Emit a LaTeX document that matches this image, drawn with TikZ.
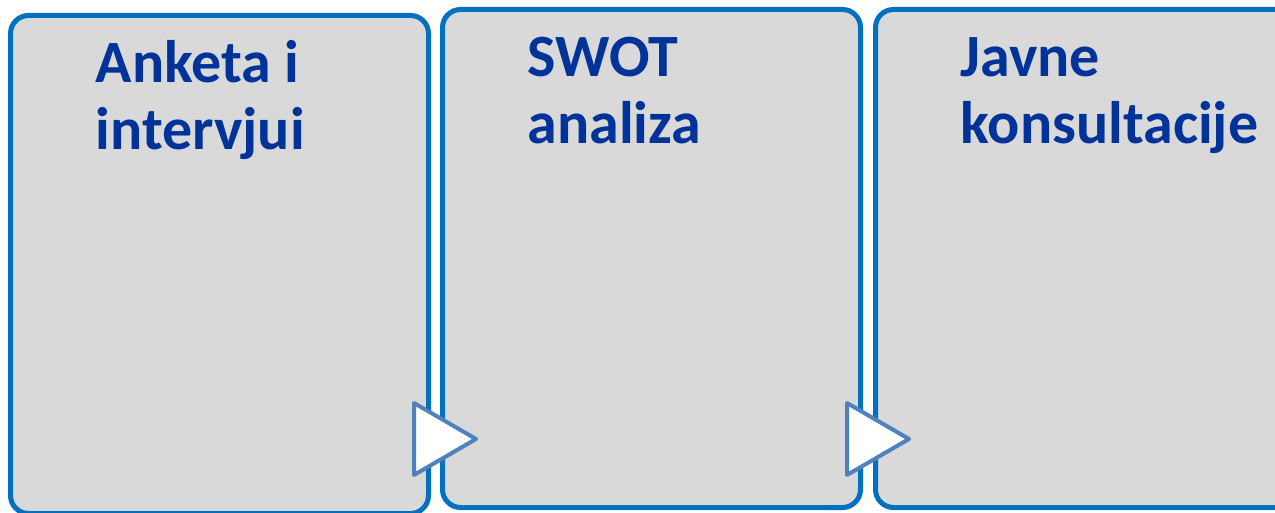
\documentclass[tikz,border=0pt]{standalone}
\usepackage{fontspec}
\setmainfont{Carlito}
\usetikzlibrary{positioning}

\definecolor{stageblue}{HTML}{0070C0}
\definecolor{stagegrey}{HTML}{D9D9D9}
\definecolor{titleblue}{HTML}{003399}
\definecolor{markblue}{HTML}{4F81BD}

\begin{document}
\begin{tikzpicture}[x=1pt, y=1pt,
    stage/.style = {draw=stageblue, fill=stagegrey, line width=5pt,
      rounded corners=18pt, minimum width=418pt, minimum height=498pt,
      inner sep=0pt, outer sep=0pt},
    stagetitle/.style = {anchor=base west, align=left, inner sep=0pt,
      text=titleblue, font=\bfseries\fontsize{60}{67}\selectfont},
    nextmark/.style = {draw=markblue, fill=white, line width=4pt,
      line join=round}]
    \useasboundingbox (0,0) rectangle (1275,512);

    \node[stage] (box1) at (219.5,247.5) {};
    \node[stage, right=14pt of box1, yshift=6pt] (box2) {};
    \node[stage, right=15pt of box2] (box3) {};

    % base anchor sits on the second line
    \node[stagetitle] (title1) at ([xshift=85pt, yshift=-134pt]box1.north west) {Anketa i\\intervjui};
    \node[stagetitle] (title2) at ([xshift=85pt, yshift=-134pt]box2.north west) {SWOT\\analiza};
    \node[stagetitle] (title3) at ([xshift=85pt, yshift=-134pt]box3.north west) {Javne\\konsultacije};

    % markers between the stages
    \foreach \x in {414,847}
      \draw[nextmark] (\x,109) -- (\x,37) -- (\x+62,73) -- cycle;
\end{tikzpicture}
\end{document}
